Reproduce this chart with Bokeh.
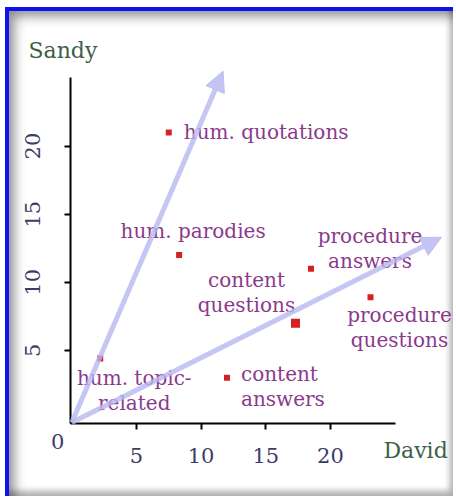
from bokeh.plotting import figure
from bokeh.models import ColumnDataSource, Label, Arrow, NormalHead, FixedTicker, Range1d, LinearAxis
from bokeh.core.properties import value
from bokeh.embed import file_html
from bokeh.resources import INLINE

# ---- data ----
names = ["hum. quotations", "hum. parodies", "hum. topic-\nrelated",
         "content\nanswers", "content\nquestions",
         "procedure\nanswers", "procedure\nquestions"]
david = [7.5, 8.3, 2.2, 12.0, 17.3, 18.5, 23.1]
sandy = [21.0, 12.0, 4.4, 3.0, 7.0, 11.0, 8.9]

arrow_x0 = [0.0, 0.0]
arrow_y0 = [-0.3, -0.3]
arrow_x1 = [11.7, 28.6]
arrow_y1 = [25.5, 13.3]

x_ticks = [5, 10, 15, 20]
y_ticks = [5, 10, 15, 20]
x_name = "David"
y_name = "Sandy"

# ---- styles ----
marker_size = [6, 6, 6, 6, 9, 6, 6]
lab_dx = [15, 14, 34, 14, -49, 59, 29]
lab_dy = [0, -24, 19, -4, -43, -33, 18]
lab_align = ["left", "center", "center", "left", "center", "center", "center"]
line_gap = 25

SERIF = value("DejaVu Serif")
PURPLE = "#8b3a8b"
TICKCOL = "#3c3c64"
NAMECOL = "#3f5f48"
ARROWCOL = "#b8b8f2"

p = figure(width=448, height=489,
           x_range=Range1d(-5.128, 29.52), y_range=Range1d(-5.727, 30.176),
           output_backend="svg", toolbar_location=None,
           x_axis_location=None, y_axis_location=None,
           min_border=0, min_border_left=0, min_border_right=0,
           min_border_top=0, min_border_bottom=0,
           background_fill_color=None, border_fill_color=None, outline_line_color=None,
           styles={"background": "white", "margin-left": "5px", "margin-top": "7px",
                   "box-shadow": "inset 4px 4px 0 0 #1010f0, "
                                 "inset 11px 11px 12px -2px rgba(0,0,0,0.45), "
                                 "inset -4px -6px 6px -1px rgba(0,0,0,0.32)"})
p.grid.visible = False

xaxis = LinearAxis(ticker=FixedTicker(ticks=x_ticks), fixed_location=-0.367, bounds=(-0.1, 25))
yaxis = LinearAxis(ticker=FixedTicker(ticks=y_ticks), fixed_location=-0.1, bounds=(-0.367, 25))
for ax in (xaxis, yaxis):
    ax.axis_line_color = "black"
    ax.axis_line_width = 2
    ax.major_tick_line_color = "black"
    ax.major_tick_line_width = 2
    ax.major_tick_in = 0
    ax.major_tick_out = 6
    ax.minor_tick_line_color = None
    ax.major_label_text_font = "DejaVu Serif"
    ax.major_label_text_font_size = "21px"
    ax.major_label_text_color = TICKCOL
xaxis.major_label_standoff = 19
yaxis.major_label_standoff = 25
yaxis.major_label_orientation = "vertical"
p.add_layout(xaxis, "below")
p.add_layout(yaxis, "left")

# arrows
asrc = ColumnDataSource(dict(x0=arrow_x0, y0=arrow_y0, x1=arrow_x1, y1=arrow_y1))
p.add_layout(Arrow(source=asrc, x_start="x0", y_start="y0", x_end="x1", y_end="y1",
                   line_color=ARROWCOL, line_width=5, line_alpha=0.8,
                   end=NormalHead(size=20, fill_color=ARROWCOL, line_color=ARROWCOL,
                                  fill_alpha=0.85, line_alpha=0.85)))

# points
psrc = ColumnDataSource(dict(x=david, y=sandy, s=marker_size))
p.scatter("x", "y", source=psrc, marker="square", size="s",
          fill_color="#d42222", line_color=None)

# labels, one row per text line
tx, ty, tt, tdx, tdy, tal = [], [], [], [], [], []
for i, name in enumerate(names):
    for k, line in enumerate(name.split("\n")):
        tx.append(david[i]); ty.append(sandy[i]); tt.append(line)
        tdx.append(lab_dx[i]); tdy.append(lab_dy[i] + k * line_gap); tal.append(lab_align[i])
tsrc = ColumnDataSource(dict(x=tx, y=ty, t=tt, dx=tdx, dy=tdy, al=tal))
p.text("x", "y", text="t", source=tsrc, x_offset="dx", y_offset="dy",
       text_align="al", text_baseline="middle",
       text_font=SERIF, text_font_size="20px", text_color=PURPLE)

# axis names and origin label
p.add_layout(Label(x=-3.35, y=27.0, text=y_name, text_font="DejaVu Serif",
                   text_font_size="22px", text_color=NAMECOL, text_baseline="middle"))
p.add_layout(Label(x=24.1, y=-2.35, text=x_name, text_font="DejaVu Serif",
                   text_font_size="22px", text_color=NAMECOL, text_baseline="middle"))
p.add_layout(Label(x=-1.1, y=-1.69, text="0", text_font="DejaVu Serif",
                   text_font_size="21px", text_color=TICKCOL,
                   text_align="center", text_baseline="middle"))

open("out.html", "w").write(file_html(p, INLINE))
